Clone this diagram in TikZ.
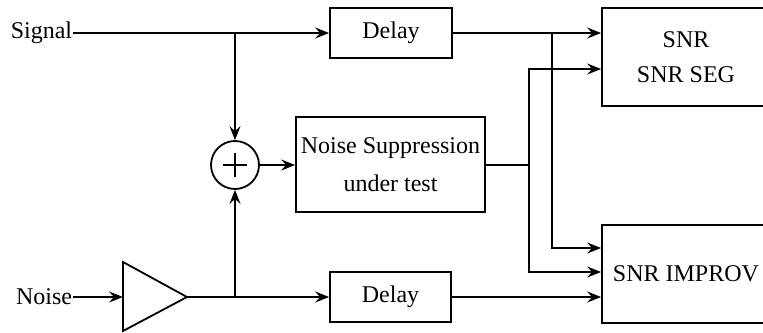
\documentclass[tikz,border=0pt]{standalone}
\usepackage{fontspec}
\setmainfont{Liberation Serif}
\usetikzlibrary{arrows.meta}
\begin{document}
\begin{tikzpicture}[x=1pt,y=-1pt,
  line width=1.8pt,
  >={Stealth[length=14pt,width=11pt,inset=5pt]},
  txt/.style={font=\fontsize{24}{35}\selectfont},
  blk/.style={draw, txt, inner sep=0pt, align=center},
  lbl/.style={txt, inner sep=0pt, anchor=east}]
\useasboundingbox (0,0) rectangle (763,332);
\clip (0,0) rectangle (763,332);

% blocks
\node[lbl] (sig) at (73,33) {Signal};
\node[lbl] (noise) at (73,297) {Noise};
\node[blk, minimum width=122pt, minimum height=50pt] (d1) at (391,33) {Delay};
\node[blk, minimum width=121pt, minimum height=50pt] (d2) at (390.5,297) {Delay};
\node[blk, minimum width=189pt, minimum height=95pt] (ns) at (390.5,164.5)
  {Noise Suppression\\[3pt]under test};
\node[blk, minimum width=168pt, minimum height=98pt] (snr) at (686,57) {SNR\\SNR SEG};
\node[blk, minimum width=168pt, minimum height=98pt] (imp) at (686,274) {SNR IMPROV};

% summing junction
\node[draw, circle, minimum size=48pt, inner sep=0pt] (sum) at (235,165) {};
\draw ([xshift=-12pt]sum.center) -- ([xshift=12pt]sum.center)
      ([yshift=-12pt]sum.center) -- ([yshift=12pt]sum.center);

% amplifier
\coordinate (ampin) at (123,297);
\coordinate (ampout) at (187,297);
\draw (123,262) -- (ampout) -- (123,331) -- cycle;

% branch and bend points
\coordinate (sbr) at (235,33);
\coordinate (nbr) at (235,297);
\coordinate (v1top) at (552,33);
\coordinate (v1bot) at (552,248);
\coordinate (j2) at (529,165);
\coordinate (j2up) at (529,69);
\coordinate (j2dn) at (529,272);

% signal path
\draw[->] (sig) -- (d1);
\draw[->] (sbr) -- (sum);
\draw[->] (d1.east) -- (d1.east -| snr.west);
\draw[->] (v1top) -- (v1bot) -- (v1bot -| imp.west);

% noise path
\draw[->] (noise) -- (ampin);
\draw[->] (ampout) -- (ampout -| d2.west);
\draw[->] (nbr) -- (sum);
\draw[->] (d2.east) -- (d2.east -| imp.west);

% processed path
\draw[->] (sum) -- (sum -| ns.west);
\draw (ns.east |- j2) -- (j2);
\draw[->] (j2) -- (j2up) -- (j2up -| snr.west);
\draw[->] (j2) -- (j2dn) -- (j2dn -| imp.west);
\end{tikzpicture}
\end{document}
